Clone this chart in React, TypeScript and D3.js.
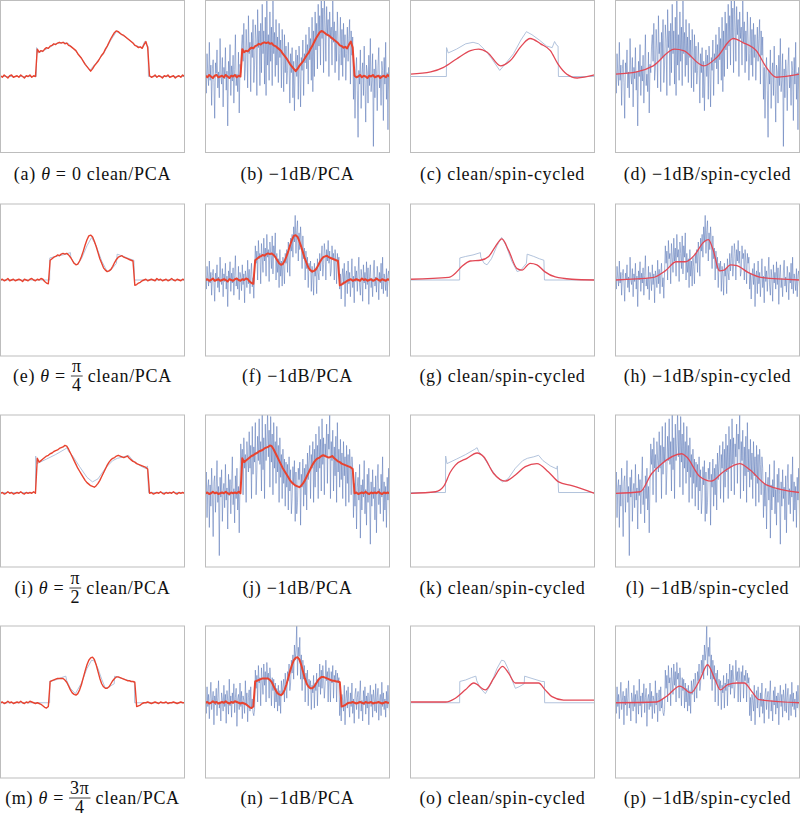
import React from 'react';
import * as d3 from 'd3';

// ---------- data (x in % of the panel width, y in units where the panel spans -100..100) ----------
const row1Clean: [number, number][] = [[0,0],[19.5,0],[19.6,38],[20.5,31],[25,36],[30,43],[34,45],[37,43],[40,36],[44,24],[48.5,8],[52,18],[56,30],[60,48],[63,59],[66,55],[70,48],[74,40],[77,38],[78.3,46],[79.5,41],[80.2,40],[80.4,0],[100,0]];
const row2Clean: [number, number][] = [[0,0],[26.7,0],[26.8,29],[30,31],[34,33],[38,36],[38.2,30],[40,22],[41.6,20],[44,28],[47,45],[49.5,56],[52,45],[55,25],[58,11],[60,13],[63,22],[63.4,34],[67,31],[70,28],[72.5,26],[72.8,0],[100,0]];
const row3Clean: [number, number][] = [[0,-2],[19,-2],[19.1,46],[19.8,36],[25,42],[30,48],[35,55],[36.2,57],[37,52],[39,47],[43,32],[47,18],[50,12],[53,16],[57,30],[61,40],[63.5,43],[67,45],[69.6,47],[72,40],[76,33],[79.5,29],[79.8,33],[80.5,-2],[100,-2]];
const row4Clean: [number, number][] = [[0,-1],[26.7,-1],[26.8,27],[30,29],[33,32],[35.5,34],[36,28],[38,18],[40.7,11],[44,25],[47,44],[49.5,55],[51,54],[53,44],[55,30],[57,18],[59,20],[61.8,24],[62,34],[66,31],[71.4,27],[72.8,27],[72.9,-1],[100,-1]];

const row1Pca = [1,-1,2,0,-2,1,2,-1,0,1,-1,2,0,-2,1,0,2,-1,1,0,36,32,34,33,36,38,37,40,41,43,42,44,45,44,45,43,44,41,40,38,36,34,30,27,24,20,16,13,10,7,10,14,17,20,24,28,31,36,40,45,50,54,58,60,59,57,55,54,52,50,48,46,44,41,40,38,39,37,42,46,38,1,-1,0,2,-1,1,0,-2,1,0,2,-1,0,1,-2,0,1,-1,2,0];
const row2Pca = [0,1,-1,0,2,-1,0,1,-1,0,1,0,-2,1,0,-1,1,2,0,-1,1,0,2,1,-2,-4,-5,26,28,30,31,33,32,34,35,34,35,33,30,26,22,20,21,25,31,38,46,53,58,59,57,51,44,36,28,22,16,13,11,12,14,18,23,27,30,31,32,30,29,28,27,26,25,-7,-6,-4,-3,-1,0,1,-1,0,1,0,-1,2,0,1,-1,0,1,-1,0,2,0,-1,1,0,-1,1,0];
const row3Pca = [-3,-2,-4,-3,-1,-3,-2,-4,-3,-2,-3,-1,-3,-4,-2,-3,-2,-3,-1,-3,43,38,40,42,44,46,47,49,50,52,53,54,56,57,58,60,59,55,50,45,40,35,30,26,22,18,14,11,9,7,6,5,7,10,14,19,24,29,34,38,41,43,44,46,47,46,45,44,45,46,43,41,39,38,36,35,34,33,32,31,29,-3,-2,-4,-3,-2,-3,-1,-3,-4,-2,-3,-2,-3,-1,-3,-4,-2,-3,-2,-3];
const row4Pca = [-1,0,-2,-1,1,-1,0,-2,-1,0,-1,1,-1,-2,0,-1,1,0,-1,-2,-1,-2,-3,-5,-7,-8,-6,27,28,29,30,31,31,31,31,29,26,21,16,12,10,9,11,16,23,32,41,49,55,58,59,56,49,40,31,24,20,18,18,20,24,28,31,33,33,32,31,30,29,28,28,27,27,26,-6,-5,-4,-2,-1,-1,0,-1,-2,-1,0,-1,-2,0,-1,-1,0,-2,-1,-1,0,-1,-2,-1,0,-1,-1];

const row1Noisy = [
  8,-22,30,3,-12,45,-5,15,-38,10,22,-8,
  -55,18,4,35,-15,6,-28,50,2,-10,25,-40,
  12,-3,38,-18,7,-65,20,0,42,-25,14,-6,
  28,-35,9,55,-12,3,-20,32,-48,16,5,40,
  55,20,70,-5,10,62,35,-15,80,30,45,-20,
  58,25,75,-8,15,68,48,-25,88,38,60,-12,
  70,5,95,30,60,-10,78,-25,100,15,55,-5,
  85,20,65,-12,105,30,58,0,75,15,52,-8,
  70,25,48,-15,62,32,-20,55,5,40,-10,8,
  45,15,-35,30,5,38,-28,20,-45,12,35,0,
  28,-30,40,15,-40,25,8,48,-25,30,18,55,
  10,42,-10,65,22,50,-5,78,-20,60,0,85,
  35,70,10,95,40,80,15,100,50,90,5,105,
  68,20,92,55,75,0,85,50,65,15,100,45,
  72,5,60,20,85,48,-5,30,78,15,62,0,
  70,25,55,-5,30,65,20,50,75,-10,60,28,52,
  -30,12,-55,5,25,-18,-80,8,-10,35,-42,3,
  18,-25,40,-8,-60,15,6,-35,28,-12,50,-20,
  -5,30,-92,10,-28,22,4,-45,14,38,-15,2,
  -38,20,8,-58,25,-10,45,-30,5,-70,12,-20];
const row2Noisy = [
  5,-12,18,2,-8,25,-4,10,-20,6,14,-3,
  -28,9,1,20,-10,4,-16,30,0,-6,15,-22,
  8,-2,22,-12,5,-35,12,0,24,-15,9,-4,
  16,-20,6,32,-8,2,-12,18,-26,10,3,-14,
  20,-6,8,-30,12,4,-10,26,-5,14,-18,7,
  22,-9,3,-24,11,
  45,22,38,0,52,28,35,-5,48,30,10,55,
  25,42,5,60,30,40,-2,50,35,15,58,8,
  45,30,62,0,35,10,28,-10,40,5,25,-8,
  30,18,-5,35,22,40,10,50,32,5,55,38,
  60,30,70,50,85,35,65,78,25,62,40,70,
  50,15,58,28,42,0,38,15,30,-10,22,12,
  25,-15,18,8,-20,22,5,15,-18,28,10,0,
  35,12,28,45,5,20,48,35,0,40,25,52,
  22,38,5,12,45,28,35,0,40,25,-5,35,22,30,
  -12,8,-25,4,15,-6,22,-35,6,12,-18,25,
  -5,10,-22,3,28,-10,5,-30,18,-2,12,-15,
  8,30,-8,-20,14,2,-28,20,-4,10,-12,24,
  -6,16,-32,5,20,-10,2,-22,12,26,-8,4,
  -16,18,6,-26,10,-4,22,-12,30,-18,8,1,
  -14,15,-22,6,12,-9];
const row3Noisy = [
  -10,25,-35,5,15,-48,8,-20,30,-5,-60,12,
  20,-28,2,40,-15,6,-85,18,-8,28,-40,0,
  10,-22,35,-12,4,-50,22,-6,15,-30,8,45,
  -18,3,-42,20,-10,30,-25,6,-55,12,
  62,35,55,-5,70,30,48,-15,65,40,25,78,
  30,60,-10,85,22,58,38,90,-5,25,72,40,
  95,35,65,0,100,28,70,-10,88,40,62,105,
  45,80,5,98,38,75,-5,90,30,65,10,85,
  25,60,-15,70,18,48,-10,55,10,42,-20,38,
  5,35,-25,45,0,28,-30,-10,32,8,40,-40,
  25,-30,-15,30,15,38,-45,22,5,42,-20,30,
  -5,35,-25,50,15,40,60,-10,48,30,65,-15,
  55,5,75,25,60,-10,85,30,68,0,95,35,
  70,-5,62,45,88,10,75,55,100,-10,65,40,
  80,0,58,20,72,-15,90,25,55,5,68,15,
  50,-10,65,20,45,-20,60,10,48,-15,55,35,-5,45,30,
  -35,10,-20,25,-50,5,18,-12,35,-62,8,-25,
  15,-8,40,-30,2,-45,22,-15,30,-5,-70,12,
  -20,28,-10,5,-38,20,-55,10,35,-18,3,-30,
  22,-8,45,-40,12,-25,6,-48,18,-12,30,-35];
const row4Noisy = [
  3,-15,20,-6,10,-22,5,26,-10,2,14,-30,
  8,-4,18,-18,6,28,-8,0,-25,12,4,-12,
  22,-6,10,-28,15,2,-16,30,-5,8,-20,12,
  -2,24,-14,6,18,-32,4,10,-10,25,-6,14,
  -22,8,2,-15,28,-4,12,-26,6,16,-12,20,
  -8,4,-14,-18,-10,
  42,18,35,0,48,25,32,-5,45,28,10,50,
  22,40,0,52,30,38,5,45,28,-5,32,15,
  30,-8,25,0,18,-12,22,-5,15,-15,28,10,
  20,30,0,38,22,5,40,28,50,15,25,55,
  38,62,30,75,55,68,100,35,72,60,85,30,
  62,15,55,30,48,0,38,25,42,-5,30,18,
  28,-10,22,12,35,-8,25,15,38,-5,30,20,
  50,10,42,18,48,30,5,22,55,28,40,0,
  45,30,0,40,25,48,5,35,28,42,0,38,25,32,
  -18,6,-25,10,2,-12,22,-30,5,15,-8,20,
  -2,-20,12,-6,25,-15,4,-28,10,18,-10,6,
  14,-22,8,28,-12,2,-25,15,-4,20,-16,8,
  -8,12,-30,4,22,-6,10,-20,16,5,-12,24,
  -14,6,18,-24,2,10,-18,26,-6,12,-10,4,
  -20,14,-8,22,-2,-12];

const row1SpinClean: [number, number][] = [[0,3],[11,6],[18,12],[25,23],[32.6,34],[37,36],[41.7,32],[49,14],[54.3,21],[60.5,41],[65,50],[70.7,43],[76,34],[80,17],[85,3],[90.6,-2],[100,2]];
const row1SpinNoisy: [number, number][] = [[0,3],[11.5,6],[20.5,14],[32,36],[37,34],[48,14],[55,25],[64,50],[69,45],[76.5,34],[82,12],[87.5,-1],[100,3]];
const row2SpinClean: [number, number][] = [[0,1],[20.8,3.5],[24.4,9],[28,18],[32.5,25],[38,26],[42.5,31],[46.1,44],[49.7,54],[53.3,39],[57.9,15],[60.6,13],[65,22],[68.7,20],[72.9,11],[78.7,4],[87.7,1],[100,0]];
const row2SpinNoisy: [number, number][] = [[0,0],[20,3],[27,12],[33,24],[38,24],[43,33],[48,50],[50.5,53],[53,40],[56.5,12],[59,13],[62.5,20],[66,19],[72,10],[80,3],[100,0]];
const row3SpinClean: [number, number][] = [[0,-3],[13.6,-1],[18,6],[21.7,25],[24.4,34],[30.7,43],[36.2,50],[39.8,45],[45.2,23],[51.5,13],[57,21],[62.4,32],[68.7,36],[75,25],[80.5,12],[87.7,7],[100,-3]];
const row3SpinNoisy: [number, number][] = [[0,-3],[13.4,-1],[19.7,23],[24.2,34],[36,49],[38.6,45],[45.8,19],[52,13],[58.5,25],[67.5,36],[73,28],[82,8],[100,-2]];
const row4SpinClean: [number, number][] = [[0,0],[19,0],[24.4,5],[29.8,16],[34.4,25],[40.7,16],[45.2,31],[50,47],[53.3,38],[57,25],[61.5,25],[69.6,25],[73.2,16],[76.9,7],[83.2,2.5],[100,2.5]];
const row4SpinNoisy: [number, number][] = [[0,-1],[22,0],[28,8],[35,21],[41,12],[46,30],[50,49],[54,30],[57,16],[61,23],[66,25],[70,25],[74,14],[78,3],[100,-1]];

const letters = [['a','b','c','d'],['e','f','g','h'],['i','j','k','l'],['m','n','o','p']];
const thetaNum = ['0', 'π', 'π', '3π'];
const thetaDen = ['', '4', '2', '4'];
const colCaptions = ['clean/PCA', '−1dB/PCA', 'clean/spin-cycled', '−1dB/spin-cycled'];

const rows = [
  { clean: row1Clean, pca: row1Pca, noisy: row1Noisy, spinClean: row1SpinClean, spinNoisy: row1SpinNoisy },
  { clean: row2Clean, pca: row2Pca, noisy: row2Noisy, spinClean: row2SpinClean, spinNoisy: row2SpinNoisy },
  { clean: row3Clean, pca: row3Pca, noisy: row3Noisy, spinClean: row3SpinClean, spinNoisy: row3SpinNoisy },
  { clean: row4Clean, pca: row4Pca, noisy: row4Noisy, spinClean: row4SpinClean, spinNoisy: row4SpinNoisy },
];

// ---------- layout ----------
const W = 800, H = 817;
const PW = 184, PH = 152;
const LEFTS = [0.5, 205.5, 410.5, 615.5];
const TOPS = [0.5, 204, 415, 626];
const CAP_BASE = [180, 382, 594, 804];
const FS = 18;
const LS = 0.7;
const FONT = 'Liberation Serif, DejaVu Serif, serif';

let ctx: CanvasRenderingContext2D | null = null;
function textW(s: string, italic = false): number {
  if (!ctx) ctx = document.createElement('canvas').getContext('2d');
  if (!ctx) return s.length * FS * 0.45;
  ctx.font = `${italic ? 'italic ' : ''}${FS}px "Liberation Serif", serif`;
  return ctx.measureText(s).width + s.length * LS;
}

const COL_CLEAN = '#a9bcd8';
const COL_NOISY = '#5272b5';
const COL_PCA = '#e8432f';
const COL_SPIN = '#e24855';

function Panel({ r, c }: { r: number; c: number }) {
  const row = rows[r];
  const left = LEFTS[c], top = TOPS[r];
  const x = d3.scaleLinear().domain([0, 100]).range([left, left + PW]);
  const y = d3.scaleLinear().domain([-100, 100]).range([top + PH, top]);
  const knot = d3.line<[number, number]>().x(d => x(d[0])).y(d => y(d[1]));
  const smooth = d3.line<[number, number]>().x(d => x(d[0])).y(d => y(d[1])).curve(d3.curveMonotoneX);
  const pcaLine = d3.line<number>().x((_, i) => x(i * 100 / (row.pca.length - 1))).y(d => y(d));
  const noisyLine = d3.line<number>().x((_, i) => x(i * 100 / (row.noisy.length - 1))).y(d => y(d));
  const id = `clip-${r}-${c}`;
  return (
    <g>
      <defs>
        <clipPath id={id}>
          <rect x={left} y={top} width={PW} height={PH} />
        </clipPath>
      </defs>
      <g clipPath={`url(#${id})`} fill="none" strokeLinejoin="round">
        {c === 0 && (
          <>
            <path d={knot(row.clean) || ''} stroke={COL_CLEAN} strokeWidth={0.9} />
            <path d={pcaLine(row.pca) || ''} stroke={COL_PCA} strokeWidth={1.4} />
          </>
        )}
        {c === 1 && (
          <>
            <path d={noisyLine(row.noisy) || ''} stroke={COL_NOISY} strokeWidth={0.7} strokeOpacity={0.75} />
            <path d={pcaLine(row.pca) || ''} stroke={COL_PCA} strokeWidth={2} />
          </>
        )}
        {c === 2 && (
          <>
            <path d={knot(row.clean) || ''} stroke={COL_CLEAN} strokeWidth={0.9} />
            <path d={smooth(row.spinClean) || ''} stroke={COL_SPIN} strokeWidth={1.3} />
          </>
        )}
        {c === 3 && (
          <>
            <path d={noisyLine(row.noisy) || ''} stroke={COL_NOISY} strokeWidth={0.7} strokeOpacity={0.75} />
            <path d={smooth(row.spinNoisy) || ''} stroke={COL_SPIN} strokeWidth={1.3} />
          </>
        )}
      </g>
      <rect x={left} y={top} width={PW} height={PH} fill="none" stroke="#bdbdbd" strokeWidth={1} />
    </g>
  );
}

function Caption({ r, c }: { r: number; c: number }) {
  const cx = LEFTS[c] + PW / 2;
  const base = CAP_BASE[r];
  const lab = `(${letters[r][c]})`;
  const common = { fontFamily: FONT, fontSize: FS, letterSpacing: LS, fill: '#111' };
  if (c !== 0) {
    return (
      <text x={cx} y={base} textAnchor="middle" {...common}>
        {lab} {colCaptions[c]}
      </text>
    );
  }
  if (!thetaDen[r]) {
    return (
      <text x={cx} y={base} textAnchor="middle" {...common}>
        {lab} <tspan fontStyle="italic">θ</tspan> = {thetaNum[r]} {colCaptions[0]}
      </text>
    );
  }
  const leftW = textW(lab + ' ') + textW('θ', true) + textW(' =');
  const numW = textW(thetaNum[r]);
  const denW = textW(thetaDen[r]);
  const barW = Math.max(numW, denW) + 2;
  const g1 = 5, g2 = 5;
  const rightW = textW(colCaptions[0]);
  const total = leftW + g1 + barW + g2 + rightW;
  const start = Math.max(2, cx - total / 2);
  const fc = start + leftW + g1 + barW / 2;
  const barY = base - 6;
  return (
    <g>
      <text x={start} y={base} {...common}>
        {lab} <tspan fontStyle="italic">θ</tspan> =
      </text>
      <text x={fc} y={base - 10} textAnchor="middle" {...common}>{thetaNum[r]}</text>
      <line x1={fc - barW / 2} x2={fc + barW / 2} y1={barY} y2={barY} stroke="#111" strokeWidth={0.8} />
      <text x={fc} y={base + 9} textAnchor="middle" {...common}>{thetaDen[r]}</text>
      <text x={fc + barW / 2 + g2} y={base} {...common}>{colCaptions[0]}</text>
    </g>
  );
}

export default function App() {
  return (
    <svg width={W} height={H} style={{ position: 'absolute', left: 0, top: 0, background: '#fff' }}>
      <rect x={0} y={0} width={W} height={H} fill="#fff" />
      {rows.map((_, r) =>
        [0, 1, 2, 3].map(c => (
          <g key={`${r}-${c}`}>
            <Panel r={r} c={c} />
            <Caption r={r} c={c} />
          </g>
        ))
      )}
    </svg>
  );
}
